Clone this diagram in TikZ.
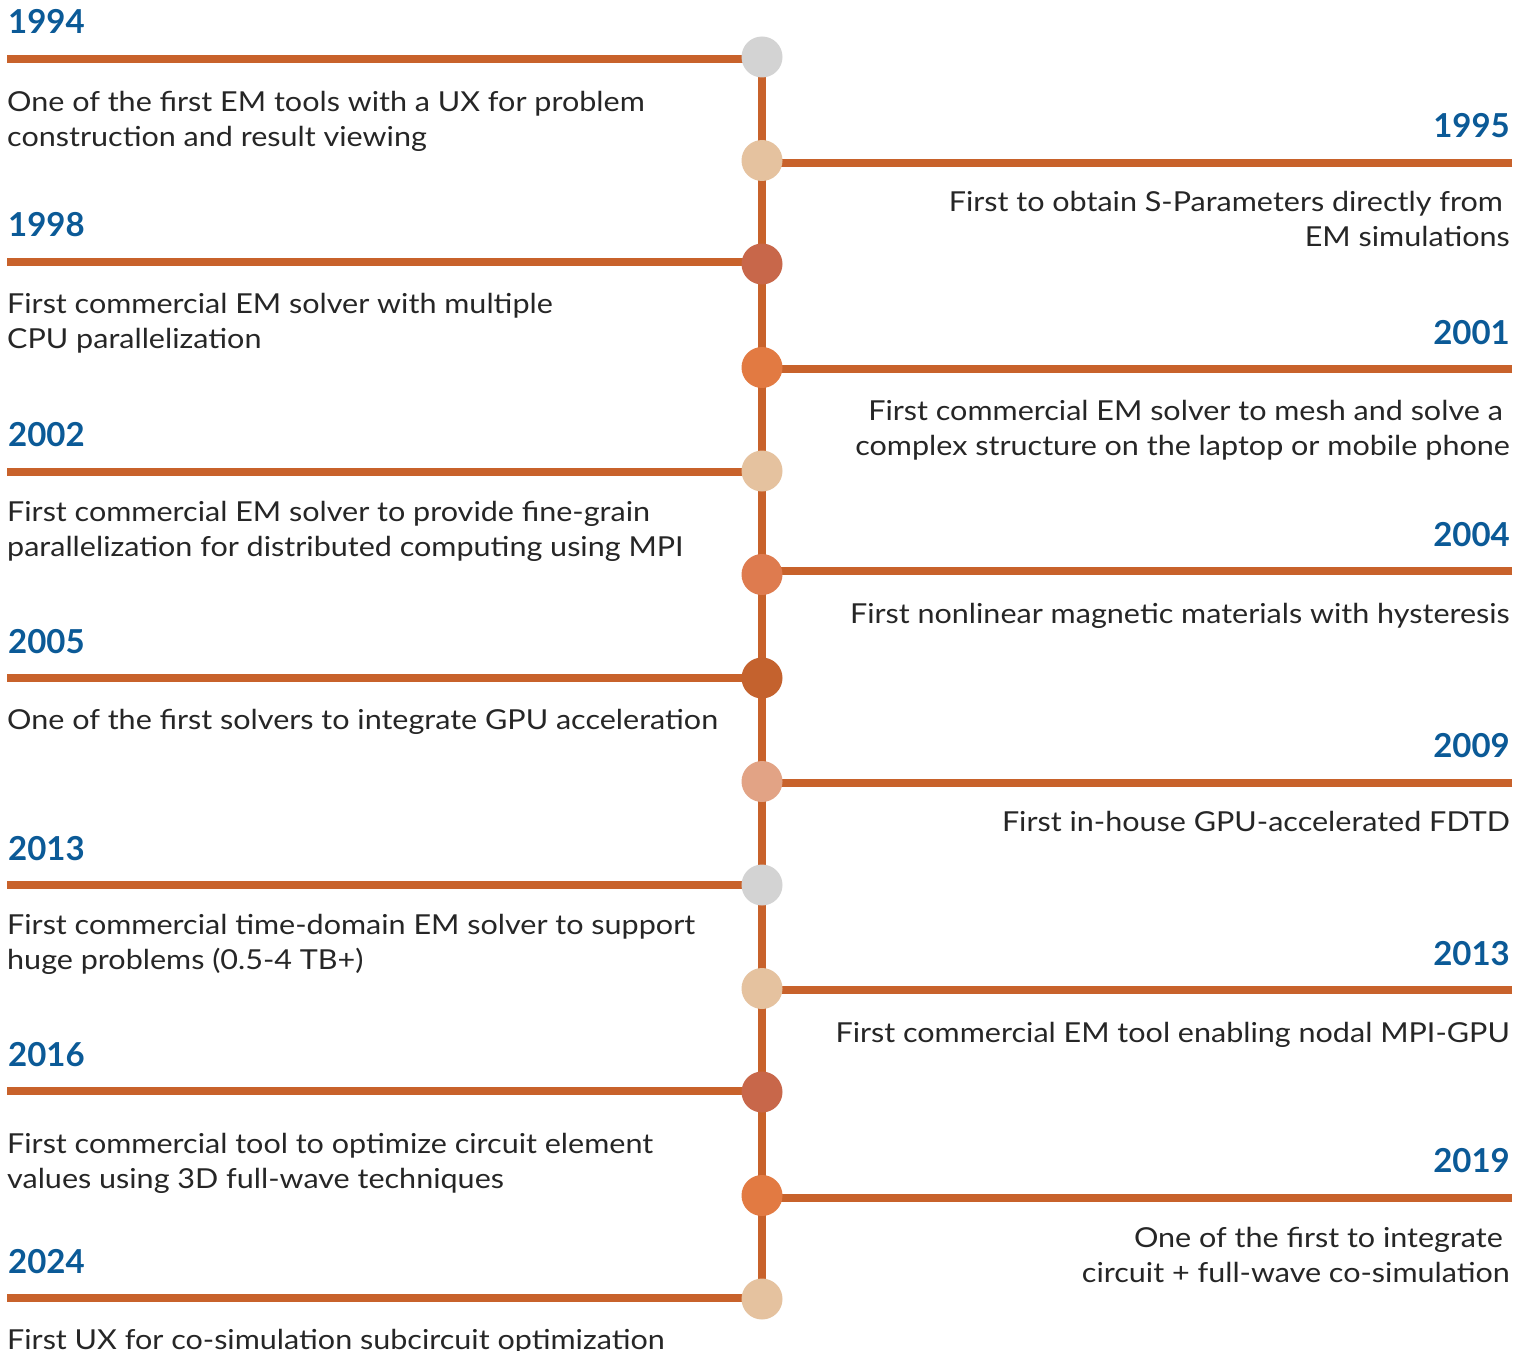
\documentclass[tikz,border=0pt]{standalone}
\usepackage{fontspec}
\setmainfont{Lato}
\newfontfamily\descfont[FakeStretch=1.11]{Lato}
\definecolor{barcol}{HTML}{C8622B}
\definecolor{yrcol}{HTML}{0B5A97}
\definecolor{txtcol}{HTML}{262626}
\definecolor{cgray}{HTML}{D3D3D3}
\definecolor{ctan}{HTML}{E5C29F}
\definecolor{cbrick}{HTML}{C8674A}
\definecolor{corange}{HTML}{E27A42}
\definecolor{corangeb}{HTML}{DE7B4F}
\definecolor{cdark}{HTML}{C4622E}
\definecolor{csalmon}{HTML}{E2A385}
\begin{document}
\begin{tikzpicture}[x=1pt,y=-1pt,
  dot/.style={circle,minimum size=41pt,inner sep=0pt,draw=none},
  bar/.style={draw=barcol,line width=8pt},
  yearL/.style={font=\fontsize{33}{40}\selectfont\bfseries,text=yrcol,inner sep=0pt,anchor=base west},
  yearR/.style={font=\fontsize{33}{40}\selectfont\bfseries,text=yrcol,inner sep=0pt,anchor=base east},
  descL/.style={font=\descfont\fontsize{27.5}{35}\selectfont,text=txtcol,inner sep=0pt,anchor=base west,align=left},
  descR/.style={font=\descfont\fontsize{27.5}{35}\selectfont,text=txtcol,inner sep=0pt,anchor=base east,align=right}
]
\useasboundingbox[fill=white] (0,0) rectangle (1528,1351);

% line end coordinates
\coordinate (e1) at (7,59);
\coordinate (e2) at (1512,163);
\coordinate (e3) at (7,261.7);
\coordinate (e4) at (1512,369);
\coordinate (e5) at (7,471.7);
\coordinate (e6) at (1512,571);
\coordinate (e7) at (7,678.3);
\coordinate (e8) at (1512,782.7);
\coordinate (e9) at (7,885);
\coordinate (e10) at (1512,990);
\coordinate (e11) at (7,1091);
\coordinate (e12) at (1512,1197.7);
\coordinate (e13) at (7,1298.3);

% circle positions
\path
  (762,57)     node[dot] (c1) {}
  (762,160.5)  node[dot] (c2) {}
  (762,264)    node[dot] (c3) {}
  (762,367.5)  node[dot] (c4) {}
  (762,471)    node[dot] (c5) {}
  (762,574.5)  node[dot] (c6) {}
  (762,678)    node[dot] (c7) {}
  (762,781.5)  node[dot] (c8) {}
  (762,885)    node[dot] (c9) {}
  (762,988.5)  node[dot] (c10) {}
  (762,1092)   node[dot] (c11) {}
  (762,1195.5) node[dot] (c12) {}
  (762,1299)   node[dot] (c13) {};

% horizontal bars
\foreach \i in {1,...,13} {
  \draw[bar] (e\i) -- (e\i -| c\i.center);
}
% vertical spine
\draw[bar] (c1.center) -- (c13.center);

% circles on top
\foreach \i/\c in {1/cgray,2/ctan,3/cbrick,4/corange,5/ctan,6/corangeb,7/cdark,8/csalmon,9/cgray,10/ctan,11/cbrick,12/corange,13/ctan} {
  \fill[\c] (c\i) circle[radius=20.5pt];
}

% years
\node[yearL] (y1)  at (8,34)        {1994};
\node[yearR] (y2)  at (1510,138)    {1995};
\node[yearL] (y3)  at (8,236.7)     {1998};
\node[yearR] (y4)  at (1510,344)    {2001};
\node[yearL] (y5)  at (8,446.7)     {2002};
\node[yearR] (y6)  at (1510,546)    {2004};
\node[yearL] (y7)  at (8,653.3)     {2005};
\node[yearR] (y8)  at (1510,757.7)  {2009};
\node[yearL] (y9)  at (8,860)       {2013};
\node[yearR] (y10) at (1510,965)    {2013};
\node[yearL] (y11) at (8,1066)      {2016};
\node[yearR] (y12) at (1510,1172.7) {2019};
\node[yearL] (y13) at (8,1273.3)    {2024};

% descriptions (base = baseline of last line)
\node[descL] (d1)  at (7,147)       {One of the first EM tools with a UX for problem\\construction and result viewing};
\node[descR] (d2)  at (1510,246)    {First to obtain S-Parameters directly from\hspace*{7pt}\\EM simulations};
\node[descL] (d3)  at (7,348)       {First commercial EM solver with multiple\\CPU parallelization};
\node[descR] (d4)  at (1510,455.5)  {First commercial EM solver to mesh and solve a\hspace*{7pt}\\complex structure on the laptop or mobile phone};
\node[descL] (d5)  at (7,556)       {First commercial EM solver to provide fine-grain\\parallelization for distributed computing using MPI};
\node[descR] (d6)  at (1510,623)    {First nonlinear magnetic materials with hysteresis};
\node[descL] (d7)  at (7,729)       {One of the first solvers to integrate GPU acceleration};
\node[descR] (d8)  at (1510,831)    {First in-house GPU-accelerated FDTD};
\node[descL] (d9)  at (7,969)       {First commercial time-domain EM solver to support\\huge problems (0.5-4 TB+)};
\node[descR] (d10) at (1510,1042)   {First commercial EM tool enabling nodal MPI-GPU};
\node[descL] (d11) at (7,1188)      {First commercial tool to optimize circuit element\\values using 3D full-wave techniques};
\node[descR] (d12) at (1510,1282)   {One of the first to integrate\hspace*{7pt}\\circuit + full-wave co-simulation};
\node[descL] (d13) at (7,1349)      {First UX for co-simulation subcircuit optimization};
\end{tikzpicture}
\end{document}
